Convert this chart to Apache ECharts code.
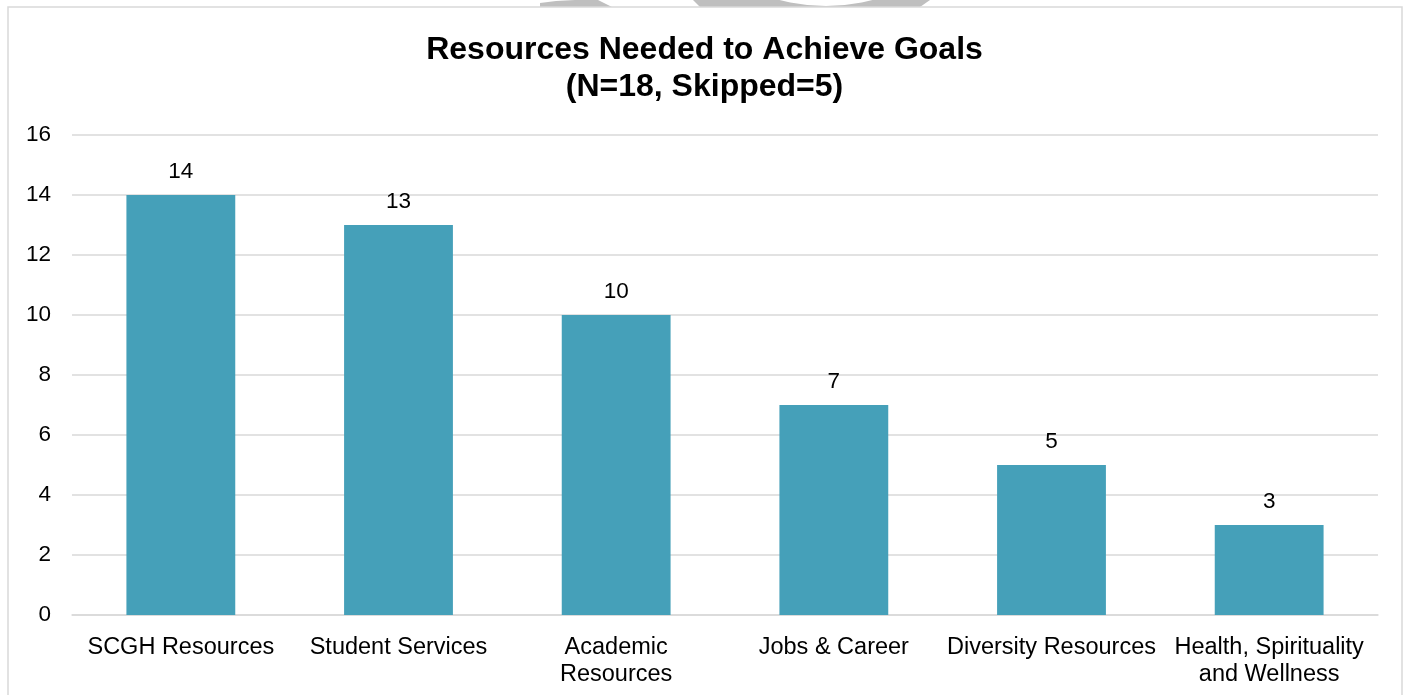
<!DOCTYPE html>
<html>
<head>
<meta charset="utf-8">
<script src="https://cdn.jsdelivr.net/npm/echarts@6/dist/echarts.min.js"></script>
<style>html,body{margin:0;padding:0;background:#fff;}#c{width:1409px;height:695px;}</style>
</head>
<body>
<div id="c"></div>
<script>
const categories = ["SCGH Resources", "Student Services", "Academic\nResources", "Jobs & Career", "Diversity Resources", "Health, Spirituality\nand Wellness"];
const values = [14, 13, 10, 7, 5, 3];
const yTicks = [0, 2, 4, 6, 8, 10, 12, 14, 16];
const titleText = "Resources Needed to Achieve Goals\n(N=18, Skipped=5)";

const FONT = 'Liberation Sans, Arial, sans-serif';
const chart = echarts.init(document.getElementById('c'));
chart.setOption({
  animation: false,
  backgroundColor: '#fff',
  graphic: [
    { type: 'polygon', silent: true, z: -10,
      shape: { points: [[540,7],[540,3],[556,1],[575,0],[598,0],[612,7]] },
      style: { fill: '#BFBFBF' } },
    { type: 'polygon', silent: true, z: -10,
      shape: { points: [[693,0],[930,0],[920,7],[700,7]] },
      style: { fill: '#BFBFBF' } },
    { type: 'circle', silent: true, z: -9,
      shape: { cx: 826, cy: -177, r: 183 },
      style: { fill: '#fff' } },
    { type: 'rect', silent: true, z: -8,
      shape: { x: 8, y: 7, width: 1394, height: 700 },
      style: { fill: '#fff', stroke: '#D9D9D9', lineWidth: 1.5 } }
  ],
  title: {
    text: titleText, left: 'center', top: 27,
    textStyle: { fontFamily: FONT, fontWeight: 'bold', fontSize: 32, color: '#000', lineHeight: 37 }
  },
  grid: { left: 72, right: 31, top: 135, bottom: 80, containLabel: false },
  xAxis: {
    type: 'category', data: categories,
    axisLine: { show: true, lineStyle: { color: '#D9D9D9', width: 1.5 } },
    axisTick: { show: false },
    axisLabel: { interval: 0, fontFamily: FONT, fontSize: 23.5, color: '#000', lineHeight: 27, margin: 19 }
  },
  yAxis: {
    type: 'value', min: 0, max: yTicks[yTicks.length - 1], interval: 2,
    axisLine: { show: false }, axisTick: { show: false },
    splitLine: { lineStyle: { color: '#D9D9D9', width: 1.5 } },
    axisLabel: { fontFamily: FONT, fontSize: 22.5, color: '#000', margin: 21, padding: [3, 0, 0, 0] }
  },
  series: [{
    type: 'bar', data: values, barWidth: '50%',
    itemStyle: { color: '#45A0B9' },
    label: { show: true, position: 'top', distance: 12, fontFamily: FONT, fontSize: 22.5, color: '#000' }
  }]
});
</script>
</body>
</html>
